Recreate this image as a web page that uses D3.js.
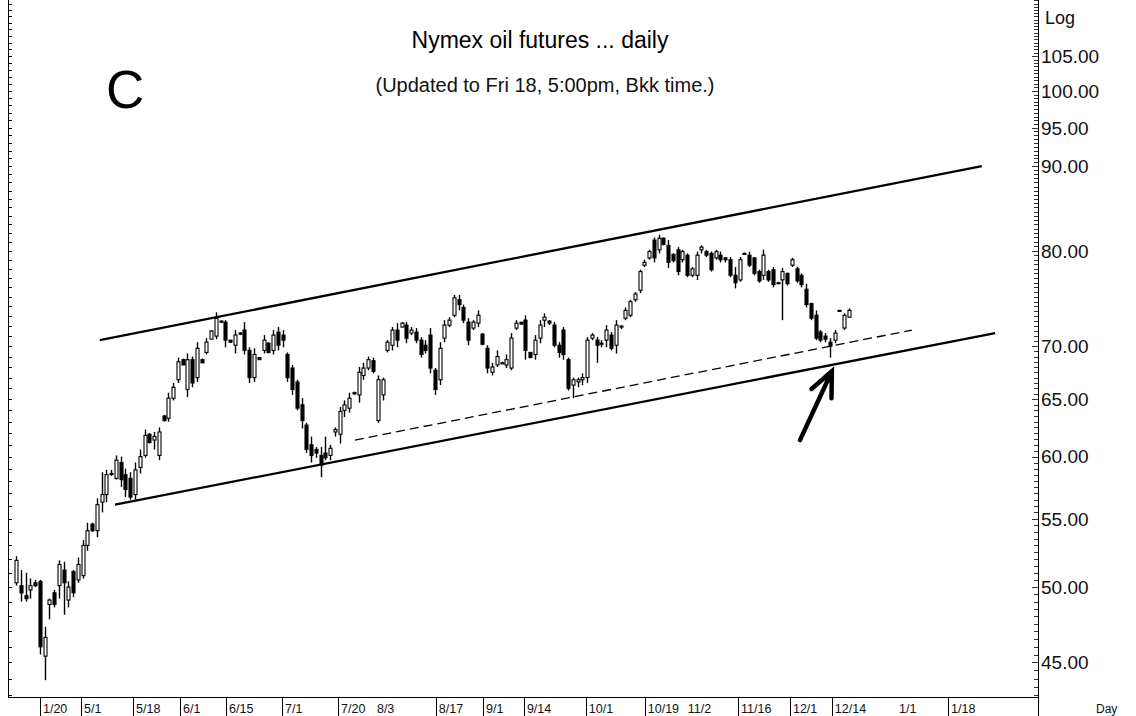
<!DOCTYPE html>
<html>
<head>
<meta charset="utf-8">
<script src="https://cdn.jsdelivr.net/npm/d3@7"></script>
<style>
  html, body { margin: 0; padding: 0; background: #fff; }
  svg { display: block; font-family: "Liberation Sans", Arial, sans-serif; }
</style>
</head>
<body>
<div id="chart"></div>
<script>
// daily bars, one per trading day (mid Apr .. Dec 18)
const openPx = [50.3,50.1,49.4,49.8,50.3,50.4,45.4,48.8,49.6,50.1,51.2,49.1,51.1,50.5,50.8,53.0,54.6,54.1,56.3,56.9,
  58.6,58.2,59.5,58.5,58.2,56.9,59.1,60.1,61.9,61.4,60.1,63.5,63.3,65.1,66.8,68.7,65.9,68.7,67.0,68.7,
  69.4,70.7,71.0,72.5,72.4,70.6,70.1,71.3,71.6,69.6,67.0,68.9,69.6,70.3,69.6,71.4,71.1,69.2,67.9,66.6,
  64.5,62.7,61.0,60.6,60.1,60.3,60.1,62.1,61.9,64.0,64.2,65.6,65.4,67.2,67.9,68.6,63.1,65.4,69.6,70.1,
  71.6,71.9,72.1,71.3,71.4,70.6,70.1,71.1,67.7,66.8,70.8,72.1,73.1,74.7,73.9,72.4,71.8,72.3,71.2,69.8,
  67.5,68.2,68.4,68.2,67.9,71.8,72.4,72.6,69.4,69.2,70.8,72.6,72.5,72.1,70.1,71.6,68.7,66.3,66.6,66.8,
  67.0,70.8,70.6,70.3,70.6,71.1,70.1,71.9,72.8,73.1,74.7,75.7,78.4,79.2,81.2,80.1,81.4,80.6,79.6,80.1,
  79.0,79.5,77.3,77.3,80.1,79.9,79.7,79.2,79.5,79.2,79.0,77.3,76.8,79.7,79.5,79.2,77.7,77.3,77.7,77.9,
  76.5,76.8,77.5,78.4,78.0,77.3,75.8,74.3,73.1,71.4,71.0,70.4,70.6,73.6,71.8,72.9];
const highPx = [52.2,51.2,51.0,50.6,50.5,50.5,47.3,49.2,49.8,51.9,51.8,50.4,51.2,52.1,53.4,54.7,54.7,56.6,58.7,58.9,
  58.9,60.1,60.0,59.0,58.7,59.5,60.6,62.3,62.0,62.1,62.5,63.6,65.6,66.5,68.9,68.8,69.3,69.0,70.4,68.8,
  70.8,71.6,73.4,72.6,72.6,70.6,71.6,71.4,72.4,69.9,69.8,68.9,71.1,70.4,71.6,71.9,71.6,69.4,68.2,66.8,
  65.1,62.9,61.7,60.8,60.8,61.7,61.0,62.5,64.3,64.9,65.6,65.7,68.0,68.4,69.0,68.9,67.2,67.0,70.6,71.9,
  72.3,72.4,72.4,71.9,71.8,70.9,70.6,71.8,67.9,70.4,72.6,72.9,75.2,75.2,74.2,72.8,72.6,73.6,71.3,70.1,
  68.4,69.6,68.5,69.2,71.3,72.6,72.4,73.1,69.4,71.1,72.6,73.3,72.6,72.4,70.4,71.9,68.9,67.0,67.0,67.4,
  70.9,71.3,70.9,70.6,72.1,71.4,72.6,72.1,73.9,74.7,75.5,77.9,79.0,80.1,81.5,81.8,81.5,81.2,79.7,80.4,
  80.1,79.7,78.2,79.9,80.6,80.1,79.9,80.1,79.9,79.3,79.3,78.2,79.3,79.8,79.9,79.3,77.9,80.1,77.9,78.2,
  76.6,78.1,77.6,79.2,78.2,77.5,76.4,74.4,73.6,71.6,71.3,70.8,71.6,73.6,73.3,73.8];
const lowPx = [50.1,49.0,49.0,49.2,50.0,45.5,43.9,47.8,48.6,49.2,48.1,48.6,49.3,50.3,50.6,52.6,54.0,53.6,55.5,56.3,
  58.4,58.1,57.5,56.7,56.5,56.5,58.6,59.9,61.1,60.6,59.7,63.0,63.0,64.9,66.5,68.2,65.2,66.1,66.6,68.4,
  69.2,70.7,70.7,72.3,69.9,70.4,69.3,71.1,69.2,66.5,66.6,68.7,69.3,69.3,69.2,69.6,69.9,66.6,65.4,64.0,
  62.4,60.3,59.5,59.9,58.3,59.7,59.7,61.7,61.1,63.4,63.8,65.4,64.7,66.8,67.7,67.4,62.9,64.9,69.4,69.6,
  69.9,71.9,70.3,71.1,70.3,68.9,69.3,67.4,65.4,66.3,70.4,71.9,72.9,73.6,72.3,70.1,71.6,71.9,70.1,67.4,
  67.2,68.0,68.3,67.9,67.7,71.6,72.2,68.7,68.9,68.7,70.3,71.9,72.1,69.9,68.9,68.7,65.8,65.1,66.1,66.3,
  66.5,70.6,68.4,69.9,69.9,69.6,69.3,71.7,72.6,72.9,74.5,75.4,78.2,79.0,78.7,79.7,80.6,78.1,78.7,77.3,
  78.7,77.1,77.1,76.8,79.7,79.3,77.7,79.0,78.7,78.7,77.1,75.9,76.6,79.6,78.2,77.3,76.5,76.8,76.6,76.0,
  76.4,72.6,76.2,78.2,76.5,76.0,73.9,72.6,70.6,70.4,70.4,68.9,70.3,73.5,71.6,72.9];
const closePx = [51.9,49.6,49.2,50.1,50.1,46.0,46.6,49.1,48.8,51.6,50.3,50.0,49.6,51.6,53.0,54.1,54.1,56.1,56.9,58.5,
  58.6,59.7,58.1,57.3,56.7,58.9,60.0,61.8,61.2,61.7,62.1,63.1,65.1,66.1,68.5,68.2,68.7,66.5,69.8,68.4,
  70.4,71.5,72.8,72.4,70.6,70.4,71.1,71.2,69.6,67.0,69.2,68.7,70.6,69.4,71.1,70.1,70.6,67.0,65.9,64.2,
  63.1,60.6,60.1,60.3,59.3,59.9,60.7,62.3,63.9,64.5,65.1,65.5,67.5,67.9,68.7,67.6,66.8,66.8,70.4,71.6,
  70.6,72.3,70.8,71.6,70.6,69.2,69.6,67.9,65.9,69.8,72.1,72.6,74.9,74.2,72.6,70.6,72.4,73.1,70.2,67.9,
  68.0,69.0,68.3,68.7,70.8,72.3,72.2,69.6,68.9,70.6,72.1,72.9,72.3,70.1,69.4,69.2,66.0,66.8,66.8,67.0,
  70.6,71.1,70.1,70.2,71.6,69.8,72.1,72.0,73.6,74.5,75.3,77.7,78.7,79.9,79.2,81.4,80.7,78.7,78.9,77.7,
  79.9,77.3,78.0,79.5,80.4,79.5,77.9,79.9,79.0,79.0,77.3,76.5,79.0,79.7,78.4,77.5,76.7,79.5,76.8,76.3,
  76.5,77.7,76.4,79.0,76.7,76.3,74.2,72.8,70.8,70.6,70.7,70.0,71.3,73.5,73.1,73.6];

// bottom date labels: [text, bar position, has separator line]
const dateTicks = [
  ["1/20", 5.04, true], ["5/1", 13.66, true], ["5/18", 24.58, true], ["6/1", 34.45, true],
  ["6/15", 44.12, true], ["7/1", 55.88, true], ["7/20", 67.65, true], ["8/3", 75.2, false],
  ["8/17", 88.2, true], ["9/1", 98.1, true], ["9/14", 106.7, true], ["10/1", 119.7, true],
  ["10/19", 132.1, true], ["11/2", 140.5, false], ["11/16", 151.7, true], ["12/1", 162.6, true],
  ["12/14", 171.4, true], ["1/1", 184.9, false], ["1/18", 195.8, true]
];
const priceLabels = [45, 50, 55, 60, 65, 70, 80, 90, 95, 100, 105];

// hand drawn lines: [bar position, price]
const channelUpper = [[17.6, 70.6], [202.9, 90.05]];
const channelLower = [[20.8, 56.1], [205.7, 71.3]];
const supportDashed = [[71.2, 61.4], [188.2, 71.6]];
const arrowPts = [[164.7, 61.4], [171.4, 67.6]];

const W = 1136, H = 716;
const plot = {left: 8, right: 1038, top: 0, bottom: 697};
const FONT = '"Liberation Sans", Arial, sans-serif';

const svg = d3.select("#chart").append("svg")
  .attr("width", W).attr("height", H);

const x = d3.scaleLinear().domain([0, openPx.length - 1]).range([16, 849]);
const y = d3.scaleLog().domain([42.88, 113.56]).range([plot.bottom, plot.top]);

// frame lines
svg.append("line")
  .attr("x1", plot.left + 0.5).attr("x2", plot.left + 0.5)
  .attr("y1", 0).attr("y2", plot.bottom)
  .attr("stroke", "#000");
svg.append("line")
  .attr("x1", plot.right + 0.5).attr("x2", plot.right + 0.5)
  .attr("y1", 0).attr("y2", H)
  .attr("stroke", "#000");
svg.append("line")
  .attr("x1", plot.left).attr("x2", plot.right)
  .attr("y1", plot.bottom + 0.5).attr("y2", plot.bottom + 0.5)
  .attr("stroke", "#000");

// small ticks on the left edge (every dollar)
const leftTicks = d3.range(43, 114, 1);
svg.append("g").selectAll("line")
  .data(leftTicks).join("line")
  .attr("x1", plot.left).attr("x2", plot.left + 4)
  .attr("y1", d => Math.round(y(d)) + 0.5).attr("y2", d => Math.round(y(d)) + 0.5)
  .attr("stroke", "#000");

// ticks on the right scale (every half dollar)
const rightTicks = d3.range(43, 113.6, 0.5);
svg.append("g").selectAll("line")
  .data(rightTicks).join("line")
  .attr("x1", d => plot.right - (priceLabels.includes(d) ? 6 : 4)).attr("x2", plot.right)
  .attr("y1", d => Math.round(y(d)) + 0.5).attr("y2", d => Math.round(y(d)) + 0.5)
  .attr("stroke", "#000")
  .attr("stroke-width", 0.8);

svg.append("g").selectAll("text")
  .data(priceLabels).join("text")
  .attr("x", plot.right + 3)
  .attr("y", d => y(d))
  .attr("dy", "0.36em")
  .attr("font-family", FONT)
  .attr("font-size", 19)
  .attr("fill", "#111")
  .text(d => d.toFixed(2));

svg.append("text")
  .attr("x", plot.right + 7).attr("y", 24)
  .attr("font-family", FONT).attr("font-size", 18).attr("fill", "#111")
  .text("Log");

// date axis
const dt = svg.append("g");
dt.selectAll("line")
  .data(dateTicks.filter(d => d[2])).join("line")
  .attr("x1", d => Math.round(x(d[1])) + 0.5).attr("x2", d => Math.round(x(d[1])) + 0.5)
  .attr("y1", plot.bottom).attr("y2", H)
  .attr("stroke", "#000");
dt.selectAll("text")
  .data(dateTicks).join("text")
  .attr("x", d => x(d[1]) + 3)
  .attr("y", 713)
  .attr("font-family", FONT)
  .attr("font-size", 12.5)
  .attr("fill", "#111")
  .text(d => d[0]);

svg.append("text")
  .attr("x", 1096).attr("y", 713)
  .attr("font-family", FONT).attr("font-size", 12).attr("fill", "#111")
  .text("Day");

// titles
svg.append("text")
  .attr("x", 540).attr("y", 48)
  .attr("text-anchor", "middle")
  .attr("font-family", FONT).attr("font-size", 23).attr("fill", "#000")
  .text("Nymex oil futures ... daily");
svg.append("text")
  .attr("x", 545).attr("y", 92)
  .attr("text-anchor", "middle")
  .attr("font-family", FONT).attr("font-size", 20).attr("fill", "#111")
  .text("(Updated to Fri 18, 5:00pm, Bkk time.)");
svg.append("text")
  .attr("x", 106).attr("y", 108)
  .attr("font-family", FONT).attr("font-size", 53).attr("fill", "#000")
  .text("C");

// candles
const idx = d3.range(openPx.length);
const bars = svg.append("g");
bars.selectAll("line")
  .data(idx).join("line")
  .attr("x1", i => Math.round(x(i)) + 0.5).attr("x2", i => Math.round(x(i)) + 0.5)
  .attr("y1", i => y(highPx[i])).attr("y2", i => y(lowPx[i]))
  .attr("stroke", "#000").attr("stroke-width", 1.4);
bars.selectAll("rect")
  .data(idx).join("rect")
  .attr("x", i => Math.round(x(i)) - 1)
  .attr("width", 3)
  .attr("y", i => y(Math.max(openPx[i], closePx[i])))
  .attr("height", i => Math.max(1, Math.abs(y(openPx[i]) - y(closePx[i]))))
  .attr("fill", i => closePx[i] >= openPx[i] ? "#fff" : "#000")
  .attr("stroke", "#000").attr("stroke-width", 1.1);

// channel lines
const line = d3.line().x(d => x(d[0])).y(d => y(d[1]));
svg.append("path").datum(channelUpper).attr("d", line)
  .attr("fill", "none").attr("stroke", "#000").attr("stroke-width", 2.3);
svg.append("path").datum(channelLower).attr("d", line)
  .attr("fill", "none").attr("stroke", "#000").attr("stroke-width", 2.3);
svg.append("path").datum(supportDashed).attr("d", line)
  .attr("fill", "none").attr("stroke", "#000").attr("stroke-width", 1.3)
  .attr("stroke-dasharray", "9,5");

// arrow
const tail = [x(arrowPts[0][0]), y(arrowPts[0][1])];
const head = [x(arrowPts[1][0]), y(arrowPts[1][1])];
const ang = Math.atan2(tail[1] - head[1], tail[0] - head[0]);
const barb = 27, spread = 0.42;
const arrowPath = d3.path();
arrowPath.moveTo(tail[0], tail[1]);
arrowPath.lineTo(head[0], head[1]);
arrowPath.moveTo(head[0] + barb * Math.cos(ang + spread), head[1] + barb * Math.sin(ang + spread));
arrowPath.lineTo(head[0], head[1]);
arrowPath.lineTo(head[0] + barb * Math.cos(ang - spread), head[1] + barb * Math.sin(ang - spread));
svg.append("path").attr("d", arrowPath.toString())
  .attr("fill", "none").attr("stroke", "#000").attr("stroke-width", 4.5)
  .attr("stroke-linecap", "round").attr("stroke-linejoin", "miter");
</script>
</body>
</html>
